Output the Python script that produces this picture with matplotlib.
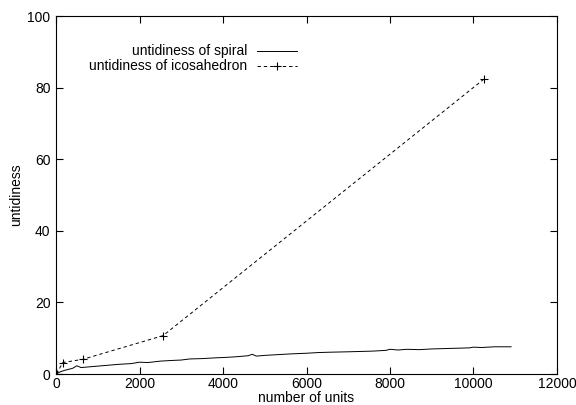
import matplotlib
matplotlib.use("Agg")
import matplotlib.pyplot as plt
from matplotlib.lines import Line2D

plt.rcParams['font.family'] = ['Liberation Sans', 'DejaVu Sans']
plt.rcParams['font.size'] = 10

spiral_units = [0, 100, 200, 300, 400, 500, 600, 800, 1000, 1200, 1500, 1800, 2000, 2200,
                2500, 2800, 3000, 3200, 3500, 3800, 4000, 4300, 4600, 4700, 4800, 5000,
                5300, 5600, 6000, 6300, 6600, 7000, 7300, 7600, 7900, 8000, 8200, 8400,
                8700, 9000, 9300, 9600, 9900, 10000, 10200, 10500, 10900]
spiral_untidiness = [0, 0.6, 1.0, 1.3, 1.6, 2.3, 1.8, 2.0, 2.2, 2.4, 2.7, 2.9, 3.3, 3.2,
                     3.6, 3.8, 3.9, 4.2, 4.3, 4.5, 4.6, 4.8, 5.1, 5.5, 5.0, 5.2,
                     5.4, 5.6, 5.8, 6.0, 6.1, 6.2, 6.3, 6.4, 6.6, 6.9, 6.7, 6.9,
                     6.8, 7.0, 7.1, 7.2, 7.3, 7.5, 7.4, 7.6, 7.6]

ico_units = [12, 162, 642, 2562, 10242]
ico_untidiness = [0.0, 3.2, 4.1, 10.7, 82.3]

x_ticks = [0, 2000, 4000, 6000, 8000, 10000, 12000]
y_ticks = [0, 20, 40, 60, 80, 100]

fig = plt.figure(figsize=(5.76, 4.05), dpi=100)
ax = fig.add_axes([56/576, 1-374/405, (557-56)/576, (374-16)/405])

lw = 0.7
dash = (0, (3.5, 3))
ax.plot(spiral_units, spiral_untidiness, color='black', lw=lw)
ax.plot(ico_units, ico_untidiness, color='black', lw=lw, ls=dash,
        marker='+', markersize=6, markeredgewidth=0.8)

ax.set_xlim(0, 12000)
ax.set_ylim(0, 100)
ax.set_xticks(x_ticks)
ax.set_yticks(y_ticks)
ax.tick_params(direction='in', length=5, width=0.8, top=True, right=True, pad=4)
ax.tick_params(axis='x', pad=2)
for s in ax.spines.values():
    s.set_linewidth(0.8)
    s.set_color('black')

ax.set_xlabel('number of units', labelpad=0)
ax.set_ylabel('untidiness', labelpad=3)

# legend (gnuplot style: text right-aligned, sample on the right)
labels = ['untidiness of spiral', 'untidiness of icosahedron']
rows_y = [1-51/405, 1-66/405]
fig.text(247/576, rows_y[0], labels[0], ha='right', va='center')
fig.text(247/576, rows_y[1], labels[1], ha='right', va='center')
fig.add_artist(Line2D([257/576, 297/576], [rows_y[0]]*2, color='black', lw=lw,
                      transform=fig.transFigure))
fig.add_artist(Line2D([257/576, 297/576], [rows_y[1]]*2, color='black', lw=lw,
                      ls=dash, transform=fig.transFigure))
fig.add_artist(Line2D([277/576], [rows_y[1]], color='black', marker='+', markersize=6,
                      markeredgewidth=0.8, ls='none', transform=fig.transFigure))

fig.savefig('out.png', dpi=100)
